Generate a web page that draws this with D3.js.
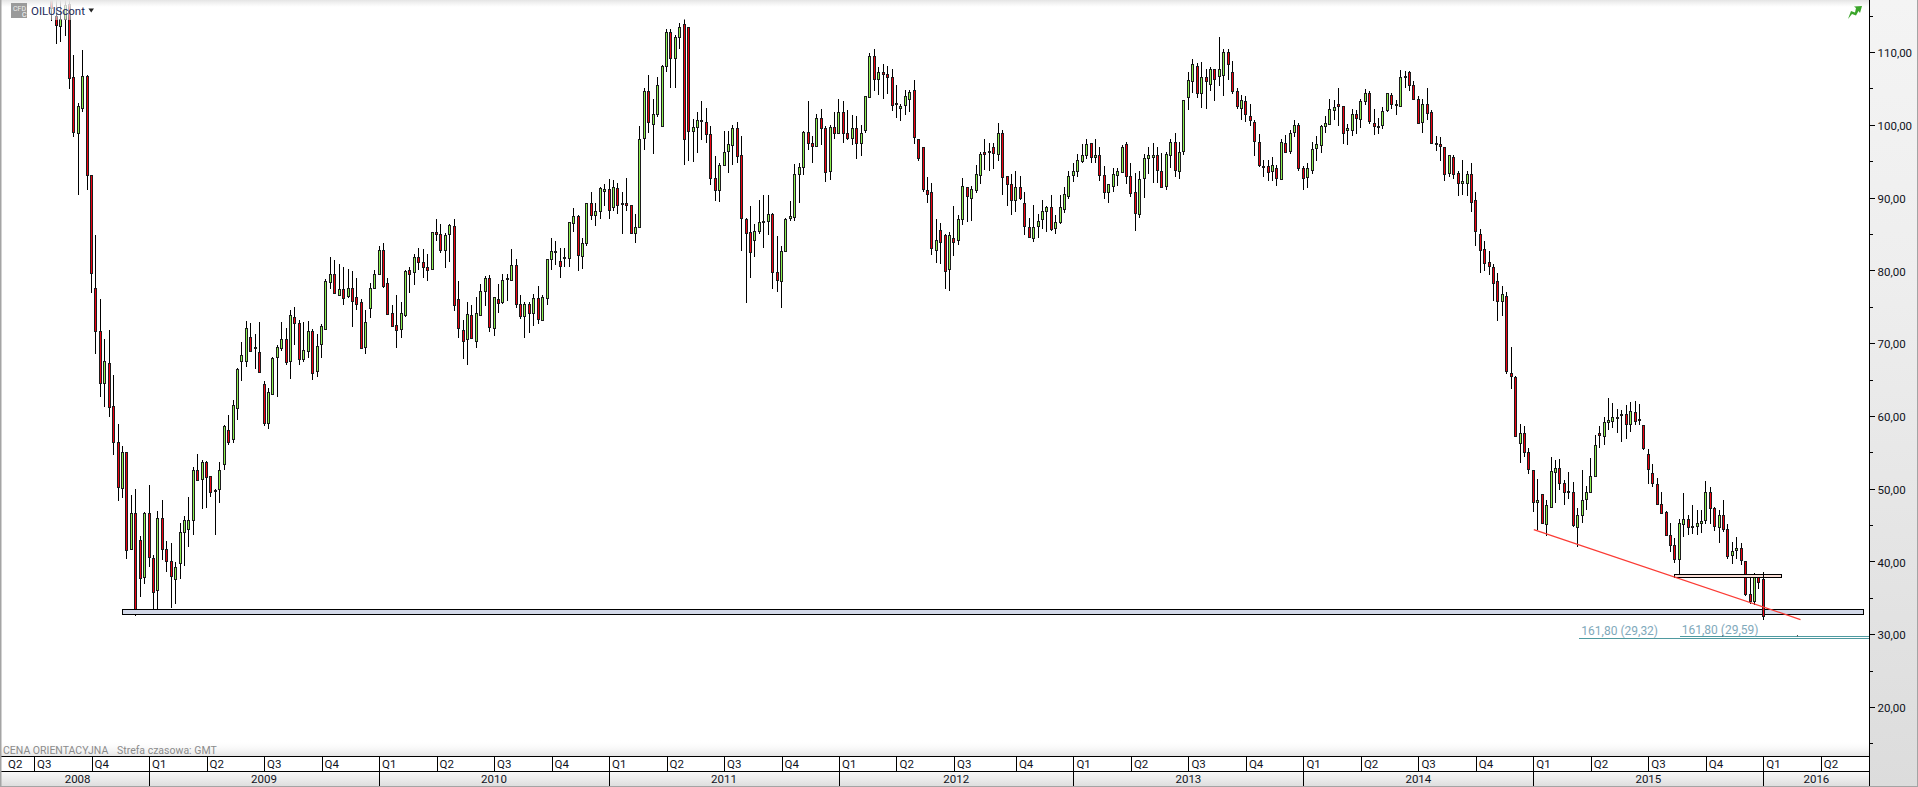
<!DOCTYPE html>
<html>
<head>
<meta charset="utf-8">
<title>OILUScont</title>
<script src="https://cdn.jsdelivr.net/npm/d3@7"></script>
<style>
  html, body { margin: 0; padding: 0; background: #fff; overflow: hidden; }
  text { font-family: Roboto, "Open Sans", sans-serif; font-size: 11.5px; fill: #10131c; }
</style>
</head>
<body>
<div class="oilchart"></div>
<script>
// weekly candles (first ones are cut by the top edge)
const opens = [
117.1,114.9,113.6,114.6,116.6,106.5,98.9,102.3,106.7,93.1,
77.6,71.7,64.5,67.3,61.3,56.4,50.2,55.1,41.7,46.6,
42.9,37.9,46.6,40.5,36.1,46,41.7,40.1,37.7,39.8,
44.1,44.4,45.7,52.6,51.3,53.6,51.7,49.8,50,53.4,
58,56.8,61.2,67.5,67.5,70.9,69.5,68.8,64.4,59,
63.1,68,69.2,70.6,67.5,73.6,72.7,67.7,69,71.7,
66.1,69.8,72,78.4,79.5,76.7,77.5,76.5,77.6,76.4,
75.7,69.5,74.8,77.6,79.5,82.8,78.3,74.2,72.5,72,
73.8,80,79.7,81.8,81.1,80.5,80.1,85.2,85,82.8,
85,86.1,76,71.8,70.6,73.9,70.3,73.9,77.2,78.9,
72.1,76.1,75.7,78.9,78.8,80.8,75.4,73.7,75.4,74.2,
76.2,73.3,76.3,81.6,82.7,81.3,81.9,81.7,86.5,87.5,
82,83.8,89.3,87.5,88.1,90.9,91.2,88.8,91.3,89.3,
89.3,89,85.2,86,98.2,104.7,100.1,101.4,99.9,108.1,
112.8,109.2,112.1,113.8,113.5,99.2,99.7,100.6,100.4,98.8,
92.7,91.1,94.5,96.3,97.3,99.6,95.8,87.1,85.2,84.1,
85.4,86.6,86.8,87.8,79.8,78.6,82.7,87.1,87.4,93.3,
94.2,99,97.5,97.2,101,99.6,93.6,99.7,98.9,101.8,
98.9,98.2,99.6,97.5,99.2,103.9,109.5,106.3,107.3,107,
106.6,103,102.3,102.6,103.6,104.8,98,97,91.1,90.8,
82.8,85.6,84.9,80.1,84.5,84.1,87,91.4,90,91.1,
93.1,96.2,96.4,97,96,98.9,93,91.9,89.7,91.5,
89.3,86,84.5,86.1,87.1,88.1,88.7,85.9,86.7,88.5,
90.3,93.1,93.6,95.1,95.9,97.5,95.6,95.8,93.1,90.7,
91.6,93.1,93.6,97.3,92.9,90.8,87.8,92.7,95.5,95.6,
95.8,93.7,91.6,95.9,97.7,93.7,96.4,103.7,105.9,108.1,
104.4,106.5,105.6,107.6,106.7,106.9,110,107.3,104.7,102.3,
103.3,101.2,100.4,97.7,94.4,94.4,93.7,94,92.6,97.5,
96.4,99.1,100,94.1,92.7,93.8,96.7,97.3,99.9,100.1,
102.1,102.8,102.6,99.2,99.3,101.5,100.7,103.3,104.4,100.3,
99.9,100,101.9,104.1,102.8,102.6,106.7,107.3,105.5,103.6,
100.3,102.9,101.7,97.5,97.4,97,93.3,95.6,93.4,92,
92,93.3,89.6,85,83,81.2,80.5,78.5,75.8,76.5,
65.9,65.4,56.3,57.7,55.1,52.6,48.2,49.2,45.2,47.5,
52.2,52.8,50.8,49.5,49.6,44.8,46.3,48.5,49.5,51.8,
57.7,57.3,59.2,59.4,59.9,60.2,60.2,58.9,60.6,59.4,
58.8,54.8,52.2,50.7,47.9,46.8,43.6,42.2,40.3,45.1,
45.9,44.9,44.9,45.3,45.6,49.5,47.3,44.8,46.4,44.5,
41,41.5,41.8,40.1,35.5,34.6,38.1,37.6
];
const closes = [
116,113.6,114.6,116.5,106.4,98.9,102.6,106.7,93.1,79.6,
71.7,64.5,67.5,61.2,56.4,50.2,55.1,41.7,46.6,33.3,
37.7,46.7,40.5,35.8,46,41.7,40.1,38,39.3,44.1,
45.7,45.7,52.6,51.2,53.6,51.6,49.5,49.6,52.6,58.6,
56.4,61.5,66.5,68.3,72.1,69,69.3,66,59,63.3,
68,69.4,70.5,67.4,73.8,72.8,67.7,69,71.7,65.9,
69.6,72.3,78.6,79.5,76.9,77.5,76.3,77.6,75.8,75.5,
69.4,72.9,77.6,79.5,82.8,77.8,74,72.4,71.8,74.2,
79.9,79.5,81.8,81.1,80.4,80.1,85.2,84.9,82.8,84.9,
86.2,75.3,72,70.3,74,70.8,74.2,77.2,79,72.1,
76.4,75.6,78.7,78.8,80.8,75.4,73.7,75.4,74.2,76.2,
73.3,76.4,81.6,82.7,82.7,80.6,81.9,86.6,87.5,82.1,
83.8,89.3,87.6,88.1,91.3,91.2,88.3,91.5,89,89.2,
89,85.1,86,98.1,104.7,100.4,101.5,105.4,108.1,112.8,
109.2,112.1,113.5,98,99.2,99.7,100.6,100.4,98.8,92.7,
91.1,94.5,96.3,97.3,99.6,95.8,87.1,85.2,82.5,85.4,
86.6,86.8,87.8,79.8,78.7,82.7,87.1,87.4,93.3,94.2,
99,97.5,97.1,101,99.6,93.6,99.7,98.9,101.8,98.9,
98.2,99.6,97.5,98.9,103.9,109.5,106.3,107.3,107,106.6,
102.8,103,102.6,103.9,104.5,98.4,95.4,91.2,90.5,83.1,
84.2,84,80,84.8,83.9,87,91.6,90.1,91.2,93.3,
96,95.9,96.4,96.2,98.9,92.9,91.9,89.7,91.5,90,
86.1,84.6,86,86.8,88.2,88.7,85.7,86.7,88.7,90.5,
93,93.6,95.1,95.9,97.4,95.6,95.9,93.1,90.8,91.8,
93.3,93.7,97,92.9,90.5,87.9,92.6,95.5,95.9,95.9,
93.7,91.5,96,97.7,93.8,96.3,103.4,106.1,108.3,104.4,
106.6,105.9,107.6,106.2,107.6,110,108.4,104.7,102.6,103.4,
101.5,100.7,97.8,94.5,94.2,93.6,94.5,92.6,97.7,96.3,
98.9,100,94.1,92.7,94,96.7,97.3,99.9,100.3,102.1,
102.5,102.5,98.9,99.5,101.5,101,103.2,104.4,100.6,99.9,
99.8,101.9,104.3,102.8,102.6,106.6,106.5,105.5,103.6,100.3,
102.8,101.7,97.4,97.3,97.1,93.3,95.8,93.3,92,92.3,
93.3,89.5,85.4,82.8,81.1,80.6,78.3,75.8,76.7,66.2,
65.5,57.3,57.7,55.1,52.7,48.2,48.5,45.2,47.8,52.4,
52.8,50.7,49.5,49.7,45,46.4,48.4,49.5,51.7,56,
57.4,59.2,59.5,59.9,59.8,60,58.8,60.7,59.4,59.6,
55.6,52.8,50.8,47.9,46.7,43.7,42.2,40.3,45.3,45.8,
44.8,44.8,45.3,45.6,49.5,47.3,44.8,46.4,44.5,40.8,
41.5,41.8,40.1,35.5,34.5,38.3,37.1,32.5
];
const highs = [
117.1,117.1,117.1,117.1,117.1,109.6,103,110.3,106.9,93.1,
84.8,76,70.5,71.8,65.6,58.9,55.9,55.1,49.1,50,
43.5,46.8,50.5,40.9,47,48.5,42.8,42.5,39.9,45.3,
46.3,48.8,53,54.7,53.9,53.8,51.8,50,53.6,58.7,
60.1,62.2,66.6,70.2,73.1,72.7,71.2,72.9,64.8,63.9,
68.1,69.7,72.9,72.1,74.6,74.9,73.2,72.9,73.1,71.9,
71.3,72.6,78.8,81.9,81.4,80.9,80.4,80.2,79.9,78.9,
76,74.6,78.2,80,83.4,83.8,79,75.3,76.6,75.6,
80,80.5,82.2,83.1,83,82.2,85.2,87,86.3,85.1,
86.4,87.1,78.5,73.2,75.7,75.3,76.3,78.1,79.2,79.3,
76.4,78.1,79.5,79.5,82.9,81.6,76.6,75.6,75.6,76.7,
77.9,76.6,81.6,84.4,84,83.1,83.1,86.7,88.5,87.6,
84.4,89.3,90.7,89.3,91.5,91.9,92.5,92.4,92,90.8,
92.7,89,87.8,99.8,105,106.8,103.5,106.5,108.2,113.1,
113.2,112.4,114,114.6,113.5,100.8,101.7,103.2,102.3,99.8,
95.7,94.7,99.2,99.1,100,100.4,98.4,87.2,88.9,86.4,
89.7,90.3,90.4,87.9,84.7,83.3,87.2,89.5,94.6,94.8,
99.2,103.2,98.5,101.5,102.2,99.8,100,101.7,103.6,103.2,
102,101.3,101.2,100,104,109.9,110.4,108,108.4,108.1,
107.6,105.4,102.9,104.8,104.8,106.2,98.1,97,92.8,92,
87,86.5,85,85.2,88.9,87.6,92.7,91.4,91.6,94.5,
96.2,98.1,97.5,97.5,100.3,99.3,93,93.3,93.6,92.9,
90.7,87.2,89,87.8,89.7,88.9,90.3,87.6,90.4,91.4,
93.7,94.7,96,97.4,98.1,97.5,98,97,94.4,91.9,
94,94,97.2,97.7,94.7,93.4,93.7,96,97,97.5,
97,96.1,96.2,98.1,98.9,97.6,103.4,107.3,109.1,108.5,
108.6,107.6,108,107.6,112,110.4,110.4,108.8,105,104.1,
103.9,102.8,100.7,98.7,95.2,95.2,95.6,94.5,98,98.6,
99.3,100.6,100.2,94.4,94.8,97.7,98.4,100,101.2,103.6,
103.4,105.1,102.6,100.1,102.1,102,103.6,104.9,104.6,102.1,
101,102.5,104.3,104.3,103.4,107.5,107.4,107.4,106,103.9,
103.6,105.1,102,98.5,98.3,97,95.9,95.8,93.6,95.1,
93.7,94.8,90.7,85.7,84,82.7,80.9,79.7,77.8,77,
69.5,65.5,58.9,58.6,55.6,52.6,51.3,49.3,48.4,54.3,
54,54.1,51.2,52.3,50.9,47.4,52.5,50.4,54.2,57.4,
58.6,59.9,62.5,61.8,60.9,60.8,61.5,61.9,62.1,61.6,
58.8,55.4,53.4,51.4,49.5,47,45.3,43.2,45.9,49.4,
46.4,47.7,47.1,47.1,51,50.2,47.5,47.1,48.4,45.1,
42.7,43.4,42.6,40.1,37.9,38.4,38.2,38.5
];
const lows = [
114.3,111.1,111.4,112.2,104.9,98.3,90.3,101.8,91.1,76.9,
68.5,62.6,61.2,59.8,54.6,48.3,48.7,40.4,41.6,32.5,
35.1,36.9,39.3,33.2,32.7,40.2,38.5,33.6,34.1,37.6,
39.4,42,43.6,51.1,47.2,47.3,48.9,43.7,48,52.5,
56,56.3,59.4,64.8,66.7,68.8,66.4,65.9,58.6,58.2,
63,62.6,68.9,67,65.1,69.7,67,67.4,67.9,64.9,
65.3,68,71.9,77.4,76.7,76.5,75.3,76.2,72.2,74.6,
69.3,68.5,73.5,77.6,79.4,77.6,73.9,72.3,69.3,70.7,
73.6,76.9,78,80,79,78.6,80,84,82.4,80.3,
81.2,74.4,70.7,67.8,67,70.5,69.3,73.8,75.1,71.5,
71,74.1,75.4,75.8,78.6,74.8,73.3,70.7,71.4,72.4,
72.6,73.1,75.3,80.1,80.7,79,80.4,80.5,85.2,79.9,
80.2,83.4,86.9,86.1,87.1,88.8,87.1,88.1,87.7,85,
88.2,85,83.8,86,96.5,98.9,96,101.1,99.9,107.3,
105,105.1,110.4,94.5,95,94.9,96.1,97.9,97.5,91.7,
89.5,89.4,94.3,93.4,94.5,94.7,82.7,75.5,79,81.8,
85,83.1,84.8,77.5,77,74.8,82.5,86.8,86.8,89.2,
93.1,96.5,94.7,97,97.2,92.2,92.4,98,98.9,97.5,
97.9,97.2,95.3,95.7,98.9,103.7,104.6,104.1,103.5,104.2,
101.9,100.9,100.5,101.4,101.7,97.4,95,90.8,89.2,82.1,
81,80.9,77.5,77.2,82,83.5,86.2,86.6,86.8,90.6,
91.8,93.8,93.7,93.9,95,90.4,88.8,87.6,88,89.7,
84.8,84.4,83.9,84.5,85.7,85.2,85.4,85,86.4,87.9,
89.8,92.2,92.8,94.8,95.3,94.8,94.7,92.3,89.8,89.2,
90.8,91.6,93.5,91.8,90.1,85.4,87.2,89.9,93.2,92,
92,91.5,91,94,92.8,92.6,95.8,102,104.4,103.7,
102.3,102.1,104.7,103.3,105.3,104,106.2,104.2,102.1,100.7,
100.4,99.8,95.7,94.2,92.8,92.3,92.3,91.6,92.4,96.1,
96,98.3,93.7,91,91.3,93.2,95,96.1,98.9,100,
100.7,99.9,97.3,97.2,98.5,98.7,99.6,102.7,100.1,98.6,
98.7,99.4,101.8,102.2,101.3,102.4,105.1,104.7,103.4,100.3,
98.9,100.7,97.3,96.4,95,92.3,92.8,92.5,90.2,90.4,
90.2,88,83.4,79.7,79.9,79.4,75.8,73.1,73.7,65.7,
63.7,57.3,53.5,54.4,52,46.8,44.3,45.1,43.5,47.4,
48,49.8,47.8,48.6,44.7,42,45.3,47.1,49.4,51.7,
55.6,56,58,58.3,57.7,56.4,56.8,57.8,58.7,58.8,
55.3,50.6,50.2,47.8,46.6,43.6,41.3,39.8,37.9,43.3,
43.6,43.8,43.6,43.9,45.2,45.2,44.2,42.5,44.1,40.3,
39.7,40.3,39.5,35.2,34.1,34,36.2,32
];

// time axis, in weeks counted from the first candle
const quarterStarts = [-17,-4,9,22,35,48,61,74,87,100,113,126,139,152,165,178,191,204,218,231,244,257,270,283,296,309,322,335,348,361,374,387,400];
const quarterLabels = ["Q2","Q3","Q4","Q1","Q2","Q3","Q4","Q1","Q2","Q3","Q4","Q1","Q2","Q3","Q4","Q1","Q2","Q3","Q4","Q1","Q2","Q3","Q4","Q1","Q2","Q3","Q4","Q1","Q2","Q3","Q4","Q1","Q2"];
const yearStarts = [22,74,126,178,231,283,335,387];
const yearLabels = ["2008","2009","2010","2011","2012","2013","2014","2015","2016"];
const priceTicks = d3.range(15, 120, 5);

// drawn levels on the chart
const supportBand = {from: 15.8, to: 409.5, top: 33.5, bottom: 32.8};
const resistanceBand = {from: 366.8, to: 390.9, top: 38.24, bottom: 37.87};
const trendLine = [{w: 335.1, p: 44.38}, {w: 395.4, p: 32.02}];
const fibLevels = [{from: 345.4, price: 29.32, label: "161,80 (29,32)"}, {from: 368.1, price: 29.59, label: "161,80 (29,59)"}];
const fibDots = [377.7, 394.6];

const Width = 1918, Height = 787, axisX = 1869.5, plotBottom = 756, rowMid = 771;

var svg = d3.select(".oilchart").append("svg")
    .attr("width", Width)
    .attr("height", Height)
    .style("display", "block");

var x = d3.scaleLinear().domain([-11.7, 411]).range([0, axisX]);
var y = d3.scaleLinear().domain([20, 110]).range([707, 52]);

var defs = svg.append("defs");

function grad(id, stops) {
  var g = defs.append("linearGradient").attr("id", id).attr("x1", 0).attr("y1", 0).attr("x2", 0).attr("y2", 1);
  stops.forEach(s => g.append("stop").attr("offset", s[0]).attr("stop-color", s[1]).attr("stop-opacity", s[2] === undefined ? 1 : s[2]));
}
grad("panel", [[0, "#f4f4f4"], [0.35, "#eeeeee"], [1, "#dcdcdc"]]);
grad("topfade", [[0, "#e4e4e4", 1], [0.35, "#ffffff", 0.75], [1, "#ffffff", 0.45]]);
grad("botfade", [[0, "#ffffff", 0], [1, "#e6e6e6", 1]]);
grad("yearrow", [[0, "#fafafa"], [1, "#dedede"]]);

defs.append("clipPath").attr("id", "plotclip")
  .append("rect").attr("width", axisX).attr("height", plotBottom);

svg.append("rect").attr("width", Width).attr("height", Height).attr("fill", "#fff");
svg.append("rect").attr("x", axisX).attr("width", Width - axisX).attr("height", Height).attr("fill", "url(#panel)");

var plot = svg.append("g").attr("clip-path", "url(#plotclip)");

// candles
const candles = opens.map((o, i) => ({i: i, o: o, c: closes[i], h: highs[i], l: lows[i]}));
const col = d => Math.floor(x(d.i));

plot.append("g").selectAll("line").data(candles).join("line")
    .attr("x1", d => col(d) + 0.5)
    .attr("x2", d => col(d) + 0.5)
    .attr("y1", d => y(d.h))
    .attr("y2", d => y(d.l))
    .attr("stroke", "#000")
    .attr("shape-rendering", "crispEdges");

plot.append("g").selectAll("rect").data(candles).join("rect")
    .attr("x", d => col(d) - 0.5)
    .attr("width", 2)
    .attr("y", d => Math.round(y(Math.max(d.o, d.c))) + 0.5)
    .attr("height", d => Math.max(1, Math.round(Math.abs(y(d.o) - y(d.c)))))
    .attr("fill", d => d.c >= d.o ? "#8cf050" : "#f00010")
    .attr("stroke", "#1c1c1c")
    .attr("shape-rendering", "crispEdges");

// support / resistance boxes
[[supportBand, "#d3d9e9"], [resistanceBand, "#fbe0d8"]].forEach(function(b) {
  plot.append("rect")
      .attr("x", Math.round(x(b[0].from)) + 0.5)
      .attr("width", Math.round(x(b[0].to) - x(b[0].from)))
      .attr("y", Math.round(y(b[0].top)) + 0.5)
      .attr("height", Math.round(y(b[0].bottom) - y(b[0].top)))
      .attr("fill", b[1])
      .attr("stroke", "#000")
      .attr("shape-rendering", "crispEdges");
});

// the last candle sits over the support box
plot.append("line")
    .attr("x1", col(candles[387]) + 0.5).attr("x2", col(candles[387]) + 0.5)
    .attr("y1", y(highs[387])).attr("y2", y(lows[387]))
    .attr("stroke", "#000").attr("shape-rendering", "crispEdges");
plot.append("rect")
    .attr("x", col(candles[387]) - 0.5).attr("width", 2)
    .attr("y", Math.round(y(opens[387])) + 0.5)
    .attr("height", Math.round(y(closes[387]) - y(opens[387])))
    .attr("fill", "#f00010").attr("stroke", "#1c1c1c").attr("shape-rendering", "crispEdges");

// falling trend line
plot.append("line")
    .attr("x1", x(trendLine[0].w)).attr("y1", y(trendLine[0].p))
    .attr("x2", x(trendLine[1].w)).attr("y2", y(trendLine[1].p))
    .attr("stroke", "#fb3b34")
    .attr("stroke-width", 1.3);

// fibo levels
fibLevels.forEach(function(f, i) {
  plot.append("line")
      .attr("x1", x(f.from)).attr("x2", axisX)
      .attr("y1", Math.round(y(f.price)) - 0.5).attr("y2", Math.round(y(f.price)) - 0.5)
      .attr("stroke", "#4f9aa0")
      .attr("shape-rendering", "crispEdges");
  svg.append("text")
      .attr("x", x(f.from) + 2)
      .attr("y", y(f.price) - (i === 0 ? 4 : 3))
      .style("fill", "#7fa9bb")
      .style("font-size", "12px")
      .text(f.label);
});
plot.append("g").selectAll("rect").data(fibDots).join("rect")
    .attr("x", d => x(d)).attr("y", y(29.59) - 2)
    .attr("width", 1).attr("height", 1).attr("fill", "#222");

// fade at the top and bottom of the plot
svg.append("rect").attr("width", axisX).attr("height", 20).attr("fill", "url(#topfade)");
svg.append("rect").attr("y", plotBottom - 16).attr("width", axisX).attr("height", 16).attr("fill", "url(#botfade)");

// price axis
svg.append("line").attr("x1", axisX).attr("x2", axisX).attr("y1", 0).attr("y2", plotBottom).attr("stroke", "#000");
var priceAxis = svg.append("g")
    .attr("transform", "translate(" + axisX + ",0)")
    .call(d3.axisRight(y).tickValues(priceTicks).tickSize(5).tickPadding(3)
      .tickFormat(d => d % 10 === 0 ? d + ",00" : ""));
priceAxis.select(".domain").remove();
priceAxis.selectAll("text").attr("y", 1).style("font-size", "11.5px").style("fill", "#10131c").style("font-family", "Roboto");
priceAxis.selectAll("line").attr("stroke", "#000").attr("x2", d => d % 10 === 0 ? 5 : 3).attr("shape-rendering", "crispEdges");

// time axis rows
svg.append("rect").attr("y", plotBottom).attr("width", axisX).attr("height", rowMid - plotBottom).attr("fill", "#fff");
svg.append("rect").attr("y", rowMid).attr("width", axisX).attr("height", Height - rowMid - 1).attr("fill", "url(#yearrow)");
[plotBottom + 0.5, rowMid + 0.5].forEach(function(py) {
  svg.append("line").attr("x1", 0).attr("x2", axisX).attr("y1", py).attr("y2", py).attr("stroke", "#000");
});
svg.append("line").attr("x1", axisX).attr("x2", axisX).attr("y1", plotBottom).attr("y2", Height - 1).attr("stroke", "#000");

var quarters = svg.append("g").selectAll("g").data(quarterStarts).join("g");
quarters.append("line")
    .attr("x1", d => Math.round(x(d)) + 0.5).attr("x2", d => Math.round(x(d)) + 0.5)
    .attr("y1", plotBottom).attr("y2", rowMid)
    .attr("stroke", "#000");
quarters.append("text")
    .attr("x", d => Math.max(x(d), 5) + 3)
    .attr("y", 768)
    .text((d, i) => quarterLabels[i]);

svg.append("g").selectAll("line").data(yearStarts).join("line")
    .attr("x1", d => Math.round(x(d)) + 0.5).attr("x2", d => Math.round(x(d)) + 0.5)
    .attr("y1", rowMid).attr("y2", Height - 1)
    .attr("stroke", "#000");

const yearEdges = [-10.3].concat(yearStarts, [x.domain()[1]]);
svg.append("g").selectAll("text").data(yearLabels).join("text")
    .attr("x", (d, i) => (x(yearEdges[i]) + x(yearEdges[i + 1])) / 2)
    .attr("y", 783)
    .attr("text-anchor", "middle")
    .text(d => d);

// frame
svg.append("rect").attr("width", 1.5).attr("height", Height).attr("fill", "#a4a4a4");
svg.append("rect").attr("y", Height - 1).attr("width", Width).attr("height", 1).attr("fill", "#a4a4a4");
svg.append("rect").attr("x", Width - 1).attr("width", 1).attr("height", Height).attr("fill", "#a4a4a4");

// bottom note
svg.append("text").attr("x", 3).attr("y", 754)
    .style("fill", "#8b8b8b").style("font-size", "10.5px")
    .text("CENA ORIENTACYJNA");
svg.append("text").attr("x", 117).attr("y", 754)
    .style("fill", "#8b8b8b").style("font-size", "10.5px")
    .text("Strefa czasowa: GMT");

// instrument header
svg.append("rect").attr("x", 11).attr("y", 3).attr("width", 16).attr("height", 15).attr("fill", "#9a9a9a");
svg.append("text").attr("x", 13).attr("y", 11).style("font-size", "7px").style("fill", "#eee").text("CFD");
svg.append("text").attr("x", 22).attr("y", 17).style("font-size", "7px").style("fill", "#fff").text("C");
svg.append("text").attr("x", 31).attr("y", 15).style("fill", "#1b2a58").style("font-size", "11.5px").text("OILUScont");
svg.append("path").attr("d", "M88.5,8.5L94,8.5L91.2,12.5Z").attr("fill", "#222");

// green status arrow
svg.append("path")
    .attr("d", "M1848,19L1851,11L1855,12.5L1856,8L1854,6.5L1862,6L1860,13L1858.5,11L1856,15.5L1852,14Z")
    .attr("fill", "#3aa52a");
</script>
</body>
</html>
